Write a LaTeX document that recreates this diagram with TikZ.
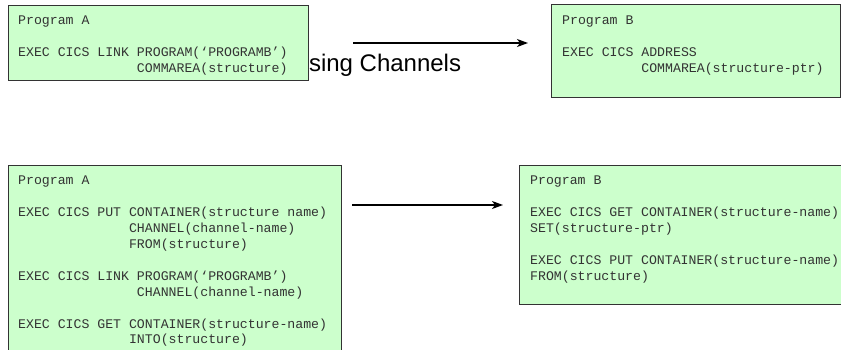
\documentclass[tikz,border=0pt]{standalone}
\usepackage{fontspec}
\setmainfont{Liberation Sans}
\newfontfamily\codefont{Liberation Mono}
\usetikzlibrary{arrows.meta}
\definecolor{boxfill}{HTML}{CCFFCC}
\definecolor{boxline}{HTML}{333333}
\definecolor{codetext}{HTML}{333333}
\newcommand{\ind}[1]{\hskip #1\dimexpr 7.92pt\relax}
\newcommand{\codelines}[1]{\vtop{\codefont\fontsize{13.2pt}{15.9pt}\selectfont\baselineskip=15.9pt #1}}
\tikzset{
  codebox/.style={draw=boxline, fill=boxfill, line width=1.3pt, anchor=north west, inner sep=0pt},
  codetxt/.style={anchor=base west, inner sep=0pt, text=codetext},
  flow/.style={line width=1.3pt, -{Stealth[length=11pt,width=8pt,inset=3pt]}},
  title/.style={anchor=base west, inner sep=0pt, font=\fontsize{24pt}{28pt}\selectfont}
}
\begin{document}
\begin{tikzpicture}[x=1pt,y=-1pt]
\useasboundingbox (0,0) rectangle (841,350);
\clip (0,0) rectangle (841,350);
\fill[white] (0,0) rectangle (841,350);
% title (partly hidden behind the first box)
\node[title] (ttl) at (291.5,72) {Using Channels};
% top row
\node[codebox, minimum width=300pt, minimum height=75pt] (a1) at (8,5) {};
\node[codetxt] (ta1) at (18,25) {\codelines{\hbox{Program A}\hbox{}\hbox{EXEC CICS LINK PROGRAM(‘PROGRAMB’)}\hbox{\ind{15}COMMAREA(structure)}}};
\node[codebox, minimum width=289pt, minimum height=93pt] (b1) at (551,4) {};
\node[codetxt] (tb1) at (562,25) {\codelines{\hbox{Program B}\hbox{}\hbox{EXEC CICS ADDRESS}\hbox{\ind{10}COMMAREA(structure-ptr)}}};
\coordinate (s1) at (353,43);
\coordinate (e1) at (528,43);
\draw[flow] (s1) -- (e1);
% bottom row
\node[codebox, minimum width=333pt, minimum height=200pt] (a2) at (8,165) {};
\node[codetxt] (ta2) at (18,185) {\codelines{\hbox{Program A}\hbox{}\hbox{EXEC CICS PUT CONTAINER(structure name)}\hbox{\ind{14}CHANNEL(channel-name)}\hbox{\ind{14}FROM(structure)}\hbox{}\hbox{EXEC CICS LINK PROGRAM(‘PROGRAMB’)}\hbox{\ind{15}CHANNEL(channel-name)}\hbox{}\hbox{EXEC CICS GET CONTAINER(structure-name)}\hbox{\ind{14}INTO(structure)}}};
\node[codebox, minimum width=340pt, minimum height=139pt] (b2) at (519,165) {};
\node[codetxt] (tb2) at (530,185) {\codelines{\hbox{Program B}\hbox{}\hbox{EXEC CICS GET CONTAINER(structure-name)}\hbox{SET(structure-ptr)}\hbox{}\hbox{EXEC CICS PUT CONTAINER(structure-name)}\hbox{FROM(structure)}}};
\coordinate (s2) at (352,205);
\coordinate (e2) at (503,205);
\draw[flow] (s2) -- (e2);
\end{tikzpicture}
\end{document}
